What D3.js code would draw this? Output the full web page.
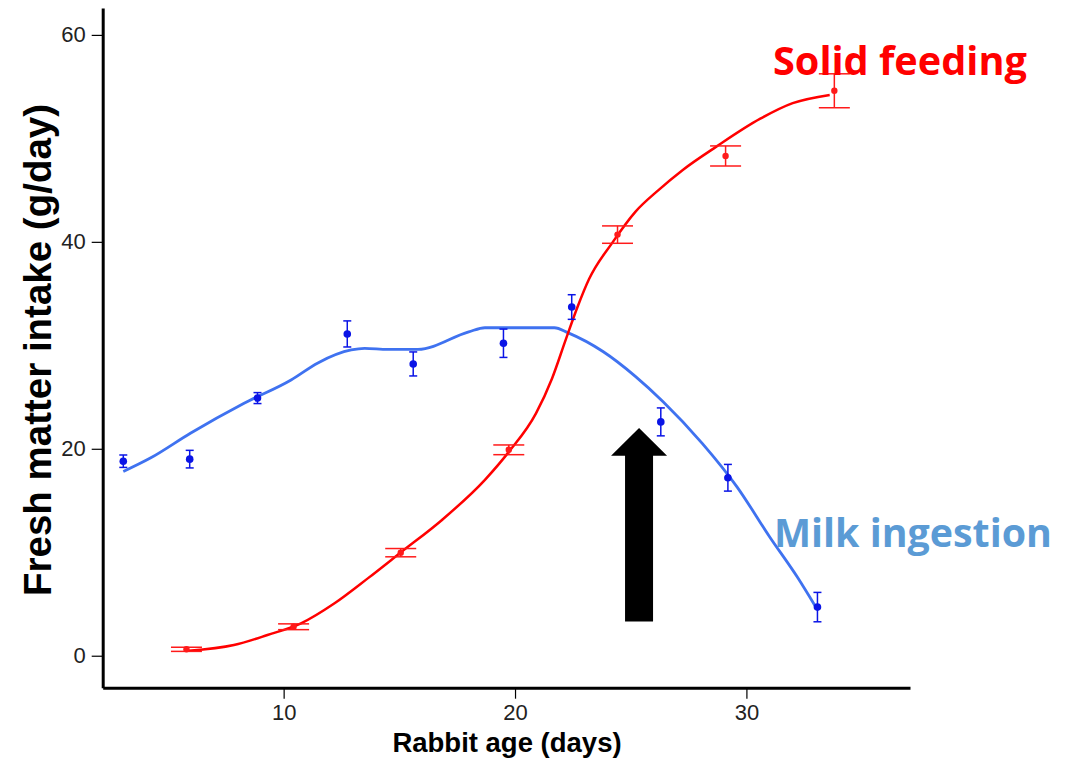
<!DOCTYPE html>
<html>
<head>
<meta charset="utf-8">
<script src="https://cdn.jsdelivr.net/npm/d3@7"></script>
<style>
  body { margin: 0; background: #fff; }
  svg { display: block; }
  .axis path, .axis line { stroke: #000; }
  .axis text { font-family: "Liberation Sans", Arial, sans-serif; fill: #222; }
</style>
</head>
<body>
<svg id="chart" width="1074" height="758"></svg>
<script>
const SIZE = { width: 1074, height: 758 };

// milk ingestion: observed means with standard errors
const milkAge = [3.07, 5.94, 8.87, 12.75, 15.6, 19.5, 22.45, 26.3, 29.2, 33.07];
const milkMean = [18.8, 19.0, 24.9, 31.1, 28.2, 30.2, 33.7, 22.6, 17.2, 4.7];
const milkErr = [0.6, 0.85, 0.53, 1.26, 1.16, 1.37, 1.19, 1.35, 1.29, 1.42];

// milk ingestion: smoothed curve
const milkFitAge = [3.07, 4.24, 5.97, 8.29, 10.32, 11.48, 12.92, 13.5, 14.5, 15.8, 18.0, 18.7, 21.7, 22.3, 23.8, 25.2, 26.4, 28.1, 29.6, 31.0, 32.2, 33.0];
const milkFit = [17.8, 19.1, 21.5, 24.4, 26.65, 28.3, 29.55, 29.7, 29.6, 29.6, 31.3, 31.7, 31.7, 31.2, 29.4, 27.0, 24.55, 20.5, 16.3, 11.5, 7.6, 4.7];

// solid feeding: observed means with standard errors
const solidAge = [5.8, 10.43, 15.06, 19.73, 24.43, 29.1, 33.8];
const solidMean = [0.62, 2.8, 9.96, 19.9, 40.7, 48.3, 54.6];
const solidErr = [0.2, 0.28, 0.4, 0.47, 0.84, 0.97, 1.64];

// solid feeding: smoothed curve
const solidFitAge = [5.9, 7.85, 9.3, 10.75, 12.2, 13.65, 15.1, 16.83, 18.7, 19.73, 20.9, 21.6, 22.2, 22.7, 23.2, 24.2, 25.2, 26.2, 27.25, 28.7, 30.6, 32.0, 33.6];
const solidFit = [0.48, 1.03, 2.0, 3.13, 5.07, 7.5, 10.05, 13.1, 17.0, 19.7, 23.4, 26.8, 30.6, 33.7, 36.4, 39.9, 42.9, 45.0, 46.95, 49.2, 51.9, 53.4, 54.2];

const xTicks = [10, 20, 30];
const yTicks = [0, 20, 40, 60];

// weaning arrow (age, intake)
const arrowAge = 25.36;
const arrowTail = 3.3;
const arrowHeadBase = 19.33;
const arrowTip = 22.0;

const zip = (xs, ys, es) => xs.map((x, i) => ({ x, y: ys[i], e: es ? es[i] : 0 }));

const x = d3.scaleLinear().domain([2.18, 37.07]).range([102.7, 910]);
const y = d3.scaleLinear().domain([-3.09, 62.6]).range([687.7, 8]);

const svg = d3.select("#chart");

// axes
const xAxis = d3.axisBottom(x).tickValues(xTicks).tickSizeInner(11).tickSizeOuter(0).tickPadding(6);
const gx = svg.append("g")
  .attr("class", "x axis")
  .attr("transform", `translate(0,${y.range()[0]})`)
  .call(xAxis);
gx.select(".domain").attr("stroke-width", 3);
gx.selectAll(".tick line").attr("stroke-width", 1.2);
gx.selectAll(".tick text").attr("font-size", 22);

const yAxis = d3.axisLeft(y).tickValues(yTicks).tickSizeInner(11).tickSizeOuter(0).tickPadding(6);
const gy = svg.append("g")
  .attr("class", "y axis")
  .attr("transform", `translate(${x.range()[0]},0)`)
  .call(yAxis);
gy.select(".domain").attr("stroke-width", 3);
gy.selectAll(".tick line").attr("stroke-width", 1.2);
gy.selectAll(".tick text").attr("font-size", 22);

// axis titles
svg.append("text")
  .attr("x", 507)
  .attr("y", 752)
  .attr("text-anchor", "middle")
  .attr("font-family", "Liberation Sans, Arial, sans-serif")
  .attr("font-weight", "bold")
  .attr("font-size", 27.5)
  .text("Rabbit age (days)");

svg.append("text")
  .attr("transform", "translate(51,350) rotate(-90)")
  .attr("text-anchor", "middle")
  .attr("font-family", "Liberation Sans, Arial, sans-serif")
  .attr("font-weight", "bold")
  .attr("font-size", 38.5)
  .text("Fresh matter intake (g/day)");

const line = d3.line()
  .x(d => x(d.x))
  .y(d => y(d.y))
  .curve(d3.curveMonotoneX);

// error bars + points
const drawSeries = function(data, color, capHalf, radius) {
  const g = svg.append("g");
  g.selectAll("line.bar").data(data).enter().append("line")
    .attr("x1", d => x(d.x)).attr("x2", d => x(d.x))
    .attr("y1", d => y(d.y - d.e)).attr("y2", d => y(d.y + d.e))
    .attr("stroke", color).attr("stroke-width", 1.5);
  [-1, 1].forEach(s => {
    g.selectAll(null).data(data).enter().append("line")
      .attr("x1", d => x(d.x) - capHalf).attr("x2", d => x(d.x) + capHalf)
      .attr("y1", d => y(d.y + s * d.e)).attr("y2", d => y(d.y + s * d.e))
      .attr("stroke", color).attr("stroke-width", 1.5);
  });
  g.selectAll("circle").data(data).enter().append("circle")
    .attr("cx", d => x(d.x)).attr("cy", d => y(d.y))
    .attr("r", radius).attr("fill", color);
};

svg.append("path")
  .datum(zip(milkFitAge, milkFit))
  .attr("fill", "none").attr("stroke", "#3f72f0").attr("stroke-width", 2.8)
  .attr("d", line);

svg.append("path")
  .datum(zip(solidFitAge, solidFit))
  .attr("fill", "none").attr("stroke", "#ff0000").attr("stroke-width", 2.5)
  .attr("d", line);

drawSeries(zip(milkAge, milkMean, milkErr), "#0a14e6", 4, 3.8);
drawSeries(zip(solidAge, solidMean, solidErr), "#ff1a1a", 15.5, 3.2);

// arrow
const ax = x(arrowAge);
const shaftHalf = 14;
const headHalf = 28;
const arrowPts = [
  [ax - shaftHalf, y(arrowTail)],
  [ax - shaftHalf, y(arrowHeadBase)],
  [ax - headHalf, y(arrowHeadBase)],
  [ax, y(arrowTip)],
  [ax + headHalf, y(arrowHeadBase)],
  [ax + shaftHalf, y(arrowHeadBase)],
  [ax + shaftHalf, y(arrowTail)]
];
svg.append("polygon")
  .attr("points", arrowPts.map(p => p.join(",")).join(" "))
  .attr("fill", "#000");

// annotations, sized to fit their width in the reference
const label = function(txt, color, left, baseline, width) {
  const t = svg.append("text")
    .attr("x", left).attr("y", baseline)
    .attr("font-family", "Open Sans, sans-serif")
    .attr("font-weight", "bold")
    .attr("font-size", 40)
    .attr("fill", color)
    .text(txt);
  const w = t.node().getComputedTextLength();
  t.attr("font-size", 40 * width / w);
};

label("Solid feeding", "#ff0000", 773, 75, 254);
label("Milk ingestion", "#5b9bd5", 774, 547, 278);
</script>
</body>
</html>
